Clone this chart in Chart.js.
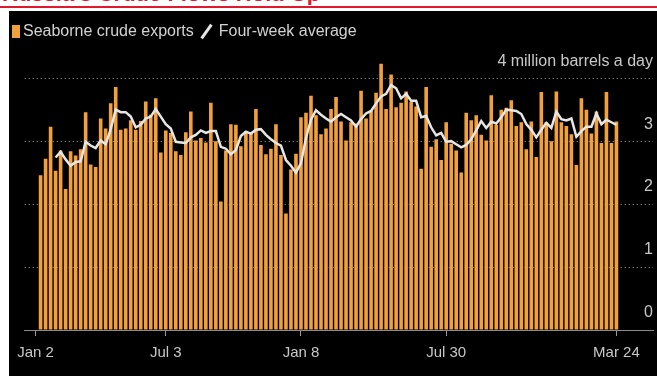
<!DOCTYPE html>
<html>
<head>
<meta charset="utf-8">
<title>Seaborne crude exports</title>
<script src="https://cdn.jsdelivr.net/npm/chart.js@4.4.0/dist/chart.umd.min.js"></script>
<style>
  html, body { margin: 0; padding: 0; background: #fff; }
  body { width: 657px; height: 376px; position: relative; overflow: hidden; font-family: 'Liberation Sans', Arial, sans-serif; }
  /* cut-off headline above the chart */
  #headline { position: absolute; left: 0; top: 0; width: 657px; height: 5px; overflow: hidden; }
  #headline span { position: absolute; left: 2px; top: -19.5px; font: bold 22px 'Liberation Sans', Arial, sans-serif; color: #e0192d; white-space: nowrap; }
  #redline { position: absolute; left: 0; top: 6px; width: 657px; height: 2px; background: #e0192d; }
  #panel { position: absolute; left: 9px; top: 11px; width: 648px; height: 365px; background: #000; }
  #panel canvas { position: absolute; left: 0; top: 0; }
  #legend { position: absolute; left: 3px; top: 11px; height: 18px; display: flex; align-items: center; color: #d2d2d2; font-size: 16px; white-space: nowrap; z-index: 2; }
  #legend .swatch { display: inline-block; width: 8px; height: 13px; background: #f2a03c; margin-right: 3px; }
  #legend .slash { display: inline-block; width: 3px; height: 17px; background: #e6e6e6; transform: rotate(35deg); margin: 0 11px 0 11px; }
</style>
</head>
<body>
<div id="headline"><span>Russia's Crude Flows Hold Up</span></div>
<div id="redline"></div>
<div id="panel">
  <div id="legend">
    <span class="swatch"></span><span>Seaborne crude exports</span>
    <span class="slash"></span><span>Four-week average</span>
  </div>
  <canvas id="chart" width="648" height="365"></canvas>
</div>
<script>
// weekly seaborne crude exports, million barrels a day (Jan 2022 - Mar 2024)
const exportsWeekly = [
  2.46, 2.72, 3.23, 2.53, 2.85, 2.24, 2.84, 2.77, 2.87, 3.46,
  2.63, 2.59, 3.36, 3.20, 3.60, 3.86, 3.18, 3.20, 3.33, 3.18,
  3.32, 3.63, 3.42, 3.68, 2.82, 3.17, 3.13, 2.84, 2.78, 3.14,
  3.47, 3.01, 3.05, 2.98, 3.61, 3.00, 2.04, 2.85, 3.27, 3.26,
  2.92, 3.16, 3.14, 3.51, 2.94, 2.79, 2.88, 3.27, 2.78, 1.85,
  2.55, 2.80, 3.38, 3.45, 3.72, 3.41, 3.11, 3.20, 3.51, 3.70,
  3.31, 3.01, 3.30, 3.28, 3.80, 3.36, 3.48, 3.77, 4.23, 3.51,
  4.06, 3.54, 3.61, 3.79, 3.62, 3.55, 2.56, 3.86, 2.91, 3.03,
  2.70, 3.30, 2.96, 2.85, 2.50, 3.45, 3.33, 3.41, 3.10, 3.01,
  3.73, 3.26, 3.50, 3.53, 3.65, 3.24, 3.30, 2.87, 3.31, 2.75,
  3.78, 3.30, 3.00, 3.79, 3.30, 3.24, 3.11, 2.62, 3.68, 3.50,
  3.12, 3.47, 2.97, 3.78, 2.97, 3.31
];

// four-week average line (starts at the 4th week)
const fourWeekAvg = [
  null, null, null, 2.74, 2.83, 2.71, 2.61, 2.67, 2.68, 2.99,
  2.93, 2.89, 3.01, 2.95, 3.19, 3.50, 3.46, 3.46, 3.39, 3.22,
  3.26, 3.36, 3.39, 3.51, 3.39, 3.27, 3.20, 2.99, 2.98, 2.97,
  3.06, 3.10, 3.17, 3.13, 3.16, 3.16, 2.91, 2.88, 2.79, 2.86,
  3.08, 3.15, 3.12, 3.18, 3.19, 3.10, 3.03, 2.97, 2.93, 2.70,
  2.61, 2.50, 2.65, 3.05, 3.34, 3.49, 3.42, 3.36, 3.31, 3.38,
  3.43, 3.38, 3.33, 3.23, 3.35, 3.44, 3.48, 3.60, 3.71, 3.75,
  3.89, 3.84, 3.68, 3.75, 3.64, 3.64, 3.38, 3.40, 3.22, 3.09,
  3.13, 2.99, 3.00, 2.95, 2.90, 2.94, 3.03, 3.17, 3.32, 3.21,
  3.31, 3.28, 3.38, 3.50, 3.49, 3.48, 3.43, 3.27, 3.18, 3.06,
  3.18, 3.29, 3.21, 3.47, 3.35, 3.33, 3.36, 3.07, 3.16, 3.23,
  3.23, 3.44, 3.27, 3.34, 3.30, 3.26
];

// x axis: weeks counted from Jan 2, 2022
const tickWeeks = [0, 26, 53, 82, 116];
const tickLabels = ['Jan 2', 'Jul 3', 'Jan 8', 'Jul 30', 'Mar 24'];
const yTickValues = [0, 1, 2, 3, 4];
const yUnitLabel = '4 million barrels a day';

const textColor = '#c8c8c8';
const barColor = '#f2a03c';
const lineColor = '#e6e6e6';

Chart.defaults.font.family = "'Liberation Sans', Arial, sans-serif";

const barPoints = exportsWeekly.map((v, i) => ({ x: i + 1, y: v }));
const avgPoints = fourWeekAvg
  .map((v, i) => ({ x: i + 1, y: v }))
  .filter(p => p.y !== null);

const ctx = document.getElementById('chart').getContext('2d');
new Chart(ctx, {
  type: 'bar',
  data: {
    datasets: [
      {
        type: 'line',
        label: 'Four-week average',
        data: avgPoints,
        borderColor: lineColor,
        borderWidth: 2.5,
        pointRadius: 0,
        tension: 0,
        order: 0
      },
      {
        label: 'Seaborne crude exports',
        data: barPoints,
        backgroundColor: barColor,
        borderWidth: 0,
        barPercentage: 0.72,
        categoryPercentage: 1,
        order: 1
      }
    ]
  },
  options: {
    responsive: false,
    animation: false,
    layout: { padding: { left: 13, right: 4, top: 42, bottom: 6 } },
    plugins: {
      legend: { display: false },
      tooltip: { enabled: false }
    },
    scales: {
      x: {
        type: 'linear',
        min: -2.2,
        max: 123.3,
        offset: false,
        afterBuildTicks: scale => { scale.ticks = tickWeeks.map(v => ({ value: v })); },
        grid: { offset: false, drawOnChartArea: false, drawTicks: true, tickLength: 6, color: '#9a9a9a' },
        border: { display: true, color: '#8c8c8c', width: 1 },
        ticks: {
          color: textColor,
          font: { size: 15 },
          padding: 8,
          autoSkip: false,
          maxRotation: 0,
          callback: (value, index) => tickLabels[index]
        }
      },
      y: {
        position: 'right',
        min: 0,
        max: 4.4,
        afterBuildTicks: scale => { scale.ticks = yTickValues.map(v => ({ value: v })); },
        grid: {
          drawTicks: false,
          color: c => (c.tick && c.tick.value === 0) ? 'rgba(0,0,0,0)' : '#707070',
          lineWidth: 1
        },
        border: { display: false, dash: [1.5, 2.5] },
        ticks: {
          mirror: true,
          padding: 0,
          labelOffset: -17,
          color: textColor,
          font: { size: 16 },
          callback: value => value === 4 ? yUnitLabel : value
        }
      }
    }
  }
});
</script>
</body>
</html>
